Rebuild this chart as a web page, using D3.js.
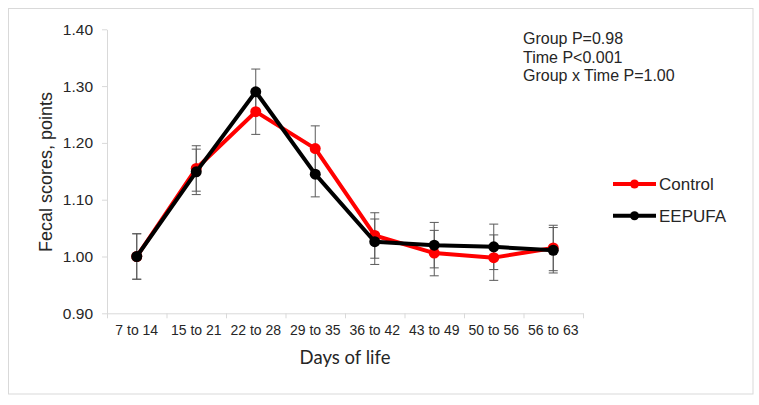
<!DOCTYPE html>
<html>
<head>
<meta charset="utf-8">
<script src="https://cdn.jsdelivr.net/npm/d3@7"></script>
<style>
  body { margin: 0; background: #fff; }
  svg { display: block; }
</style>
</head>
<body>
<div id="chart"></div>
<script>
const width = 759;
const height = 405;

// data
const periods = ["7 to 14", "15 to 21", "22 to 28", "29 to 35", "36 to 42", "43 to 49", "50 to 56", "56 to 63"];
const control = [1.000, 1.155, 1.255, 1.190, 1.037, 1.006, 0.998, 1.015];
const controlSE = [0.04, 0.04, 0.04, 0.04, 0.04, 0.04, 0.04, 0.04];
const eepufa = [1.000, 1.149, 1.290, 1.145, 1.026, 1.020, 1.017, 1.011];
const eepufaSE = [0.04, 0.04, 0.04, 0.04, 0.04, 0.04, 0.04, 0.04];
const yTicks = [0.90, 1.00, 1.10, 1.20, 1.30, 1.40];
const statsText = ["Group P=0.98", "Time P<0.001", "Group x Time P=1.00"];

const series = [
    { name: "Control", color: "#ff0000", values: control, se: controlSE },
    { name: "EEPUFA", color: "#000000", values: eepufa, se: eepufaSE }
];

const plot = { left: 107, right: 583, top: 29.3, bottom: 313.3 };

const svg = d3.select("#chart")
    .append("svg")
        .attr("width", width)
        .attr("height", height)
        .attr("viewBox", [0, 0, width, height]);

// outer frame
svg.append("rect")
    .attr("x", 8.5).attr("y", 8.5)
    .attr("width", 744.5).attr("height", 385.5)
    .attr("fill", "#fff")
    .attr("stroke", "#d9d9d9");

const x = d3.scaleBand()
    .domain(periods)
    .range([plot.left, plot.right]);

const xEdge = d3.scaleLinear()
    .domain([0, periods.length])
    .range([plot.left, plot.right]);

const y = d3.scaleLinear()
    .domain([0.9, 1.4])
    .range([plot.bottom, plot.top]);

// y axis
const yAxis = svg.append("g")
    .attr("transform", `translate(${plot.left},0)`)
    .call(d3.axisLeft(y).tickValues(yTicks).tickFormat(d3.format(".2f")).tickSize(5).tickSizeOuter(0).tickPadding(9));

// x axis: boundary ticks + centred labels
const xTicks = svg.append("g")
    .attr("transform", `translate(0,${plot.bottom})`)
    .call(d3.axisBottom(xEdge).tickValues(d3.range(periods.length + 1)).tickFormat("").tickSize(5).tickSizeOuter(0));

const xAxis = svg.append("g")
    .attr("transform", `translate(0,${plot.bottom})`)
    .call(d3.axisBottom(x).tickSize(0).tickPadding(12));
xAxis.select(".domain").remove();

[yAxis, xTicks].forEach(g => {
    g.select(".domain").attr("stroke", "#d9d9d9");
    g.selectAll(".tick line").attr("stroke", "#d9d9d9");
});

yAxis.selectAll("text")
    .attr("font-family", "Arial, 'Liberation Sans', sans-serif")
    .attr("font-size", 15.5)
    .attr("fill", "#262626");

xAxis.selectAll("text")
    .attr("font-family", "Arial, 'Liberation Sans', sans-serif")
    .attr("font-size", 14)
    .attr("fill", "#262626");

// axis titles
svg.append("text")
    .attr("transform", `translate(52,172) rotate(-90)`)
    .attr("text-anchor", "middle")
    .attr("font-family", "Arial, 'Liberation Sans', sans-serif")
    .attr("font-size", 18)
    .attr("fill", "#262626")
    .text("Fecal scores, points");

svg.append("text")
    .attr("x", (plot.left + plot.right) / 2)
    .attr("y", 364)
    .attr("text-anchor", "middle")
    .attr("font-family", "Lato, 'Open Sans', sans-serif")
    .attr("font-size", 18.5)
    .attr("fill", "#262626")
    .text("Days of life");

const cx = d => x(d) + x.bandwidth() / 2;

// error bars
const errG = svg.append("g")
    .attr("stroke", "#595959")
    .attr("stroke-width", 1)
    .attr("fill", "none");

series.forEach(s => {
    const g = errG.append("g");
    g.selectAll("path")
        .data(periods)
        .join("path")
            .attr("d", (p, i) => {
                const xc = cx(p);
                const y0 = y(s.values[i] - s.se[i]);
                const y1 = y(s.values[i] + s.se[i]);
                return `M${xc},${y0}V${y1}M${xc - 4.5},${y0}H${xc + 4.5}M${xc - 4.5},${y1}H${xc + 4.5}`;
            });
});

// lines and markers
const line = d3.line()
    .x((v, i) => cx(periods[i]))
    .y(v => y(v));

series.forEach(s => {
    svg.append("path")
        .datum(s.values)
        .attr("fill", "none")
        .attr("stroke", s.color)
        .attr("stroke-width", 4)
        .attr("stroke-linejoin", "round")
        .attr("d", line);

    svg.append("g").selectAll("circle")
        .data(s.values)
        .join("circle")
            .attr("cx", (v, i) => cx(periods[i]))
            .attr("cy", v => y(v))
            .attr("r", 5.5)
            .attr("fill", s.color);
});

// stats annotation
svg.append("g").selectAll("text")
    .data(statsText)
    .join("text")
        .attr("x", 523)
        .attr("y", (d, i) => 44 + i * 18.5)
        .attr("font-family", "Arial, 'Liberation Sans', sans-serif")
        .attr("font-size", 16)
        .attr("fill", "#262626")
        .text(d => d);

// legend
const legend = svg.append("g").selectAll("g")
    .data(series)
    .join("g")
        .attr("transform", (d, i) => `translate(613,${184 + i * 31.7})`);

legend.append("line")
    .attr("x1", 0).attr("x2", 43)
    .attr("stroke", d => d.color)
    .attr("stroke-width", 4);

legend.append("circle")
    .attr("cx", 21.5)
    .attr("r", 4.5)
    .attr("fill", d => d.color);

legend.append("text")
    .attr("x", 46)
    .attr("y", 6)
    .attr("font-family", "Arial, 'Liberation Sans', sans-serif")
    .attr("font-size", 17)
    .attr("fill", "#262626")
    .text(d => d.name);
</script>
</body>
</html>
